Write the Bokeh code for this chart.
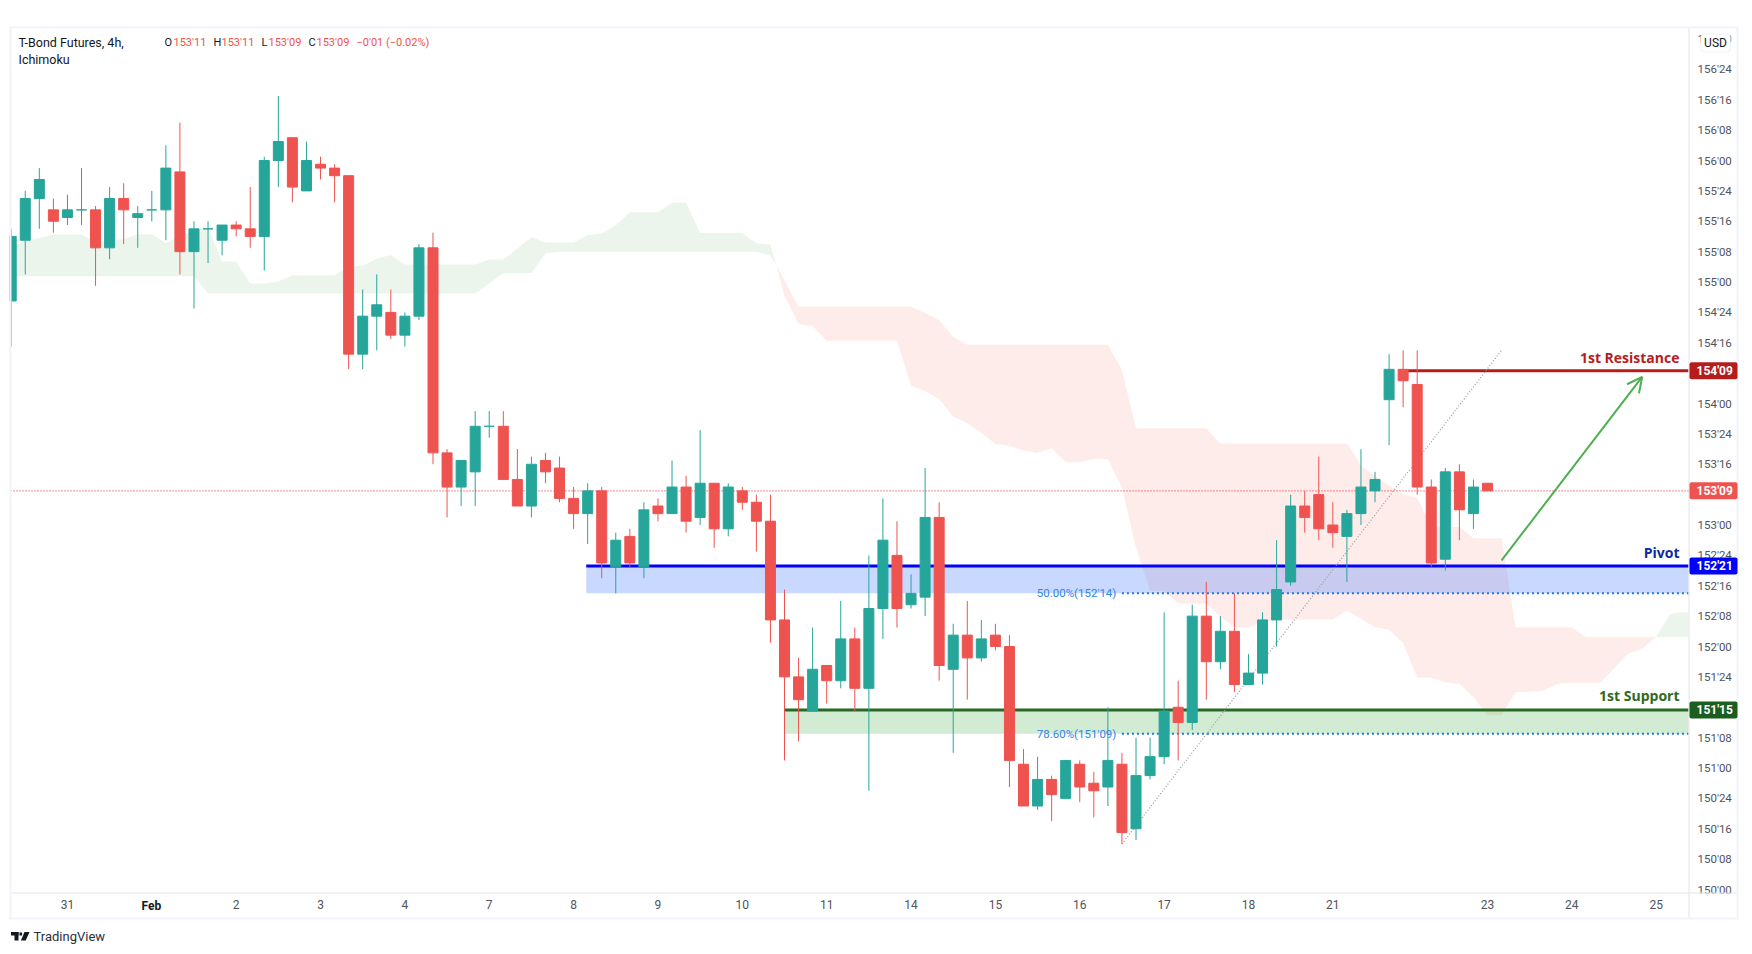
from bokeh.embed import file_html
from bokeh.resources import INLINE
from bokeh.plotting import figure
from bokeh.models import (Label, FixedTicker, Arrow, OpenHead, BoxAnnotation, PolyAnnotation, Range1d)

# T-Bond prices, in 32nds above 150'00
OPEN = [155,171,182,179,177,179,179,169,182,177,179,179,189,168,174,171,175,174,172,192,198,184,191,190,188,141,151,152,146,151,
        169,115,106,110,122,122,108,101,113,111,103,99,105,85,93,85,101,99,106,98,107,95,105,102,97,71,56,47,59,55,
        66,53,74,88,75,77,98,58,67,61,67,64,33,22,29,24,33,28,27,33,16,30,35,48,44,72,60,68,54,57,
        71,81,101,104,96,93,99,105,129,137,133,106,87,110,99,107]
HIGH = [174,184,190,182,183,190,180,185,186,180,184,196,202,176,176,175,176,185,193,209,198,197,193,191,188,158,162,158,152,170,
        173,116,113,126,126,126,116,114,115,114,106,107,106,94,95,102,103,113,109,121,107,107,106,104,104,79,61,69,59,76,
        69,88,103,97,83,111,102,70,76,71,70,67,37,35,30,34,34,31,48,36,40,40,73,55,75,81,72,78,62,73,
        92,104,105,114,102,100,116,110,141,142,142,108,111,112,108,107]
LOW = [143,162,174,173,175,175,159,166,170,169,176,171,162,153,165,167,172,169,163,185,181,184,187,181,137,137,142,145,143,150,
       112,98,101,101,119,108,101,98,107,102,95,91,82,78,85,82,97,99,94,96,90,93,100,89,65,34,39,47,49,53,
       47,26,66,69,74,72,55,36,50,60,63,27,22,21,18,24,23,19,22,12,13,29,33,34,42,50,58,52,54,54,
       64,80,94,92,90,81,96,102,117,127,104,85,84,92,95,105]
CLOSE = [172,182,187,176,179,179,169,182,179,178,179,190,168,174,174,175,174,172,192,197,185,192,190,188,141,151,154,146,151,169,
         115,106,113,122,122,108,101,112,110,103,99,105,86,92,86,100,99,106,97,107,95,106,102,97,71,56,50,58,55,66,
         53,74,92,74,78,98,59,67,61,66,64,34,22,29,25,34,27,26,34,15,30,35,47,44,72,60,68,54,57,71,
         79,101,98,95,94,99,106,108,137,134,106,86,110,100,106,105]

# Ichimoku cloud spans, in 32nds above 150'00, one value per bar
SPAN_A = [169.3,171,171.5,172.5,172.5,172.5,170.4,170.9,171.3,172.6,172.6,170.3,172.2,173.5,174.4,165.4,165.4,159.6,159.6,160.1,
          161.8,161.8,161.8,161.8,164,164.3,166.2,167.1,164.6,164.6,164.6,164.6,164.6,164.6,165.9,165.9,168.8,171.8,170.4,170.4,
          170.4,172.4,172.8,174.9,178.4,178.4,178.4,180.9,180.9,172.9,172.9,172.9,172.9,170.2,169.9,156.4,149,148.3,144.5,144.5,
          144.5,144.5,144.5,144.5,132.7,131.2,129.2,124.6,122.8,120.3,117.3,116.9,115.6,115,116.2,112.5,112.5,113.4,113.4,105.9,
          90.1,78.7,78.7,75.3,75.3,75.3,71.8,69.1,69.1,70.4,71.1,71.1,71.1,71.1,71.1,73.5,71.3,69.1,68.4,64.9,
          55.8,55.8,54.6,54.2,50.7,45.9,45.9,52,52,52.4,54.2,54.4,54.4,54.4,58.2,62.1,63.4,66.5,72.6,73]
SPAN_B = [161.5,161.5,161.5,161.5,161.5,161.5,161.5,161.5,161.5,161.5,161.5,161.5,161.5,161.5,157,157,157,157,157,157,
          157,157,157,157,157,157,157,157,157,157,157,157,157,157,159.6,162.4,162.4,162.4,167.5,168,
          168,168,168,168,168,168,168,168,168,168,168,168,168,168,167,160.4,153.5,153.5,153.5,153.5,
          153.5,153.5,153.5,153.5,153.5,151.9,149.9,145.5,143.5,143.5,143.5,143.5,143.5,143.5,143.5,143.5,143.5,143.5,143.5,136.9,
          121.5,121.5,121.5,121.5,121.5,121.5,117.5,117.5,117.5,117.5,117.5,117.5,117.5,117.5,117.5,117.5,111.7,109,106.4,104.2,
          103,95.8,95.5,95.5,92.5,92.5,92.5,69.1,69.1,69.1,69.1,69.1,66.5,66.5,66.5,66.5,66.5,66.5,66.5,66.5]

PRICE_TICKS = [0,8,16,24,32,40,48,56,64,72,80,88,96,104,112,120,128,136,144,152,160,168,176,184,192,200,208,216,224]
PRICE_LABELS = ["150'00","150'08","150'16","150'24","151'00","151'08","151'16","151'24","152'00","152'08","152'16","152'24",
                "153'00","153'08","153'16","153'24","154'00","154'08","154'16","154'24","155'00","155'08","155'16","155'24",
                "156'00","156'08","156'16","156'24","157'00"]
DATE_BARS = [4,10,16,22,28,34,40,46,52,58,64,70,76,82,88,94,105,111,117]
DATE_LABELS = ["31","Feb","2","3","4","7","8","9","10","11","14","15","16","17","18","21","23","24","25"]

LEVELS = {"res": 136.6, "pivot": 85.2, "sup": 47.3, "last": 105}
ZONE_PIVOT = [78, 85.2]
ZONE_SUP = [41, 47.3]
FIB_VALUES = [78, 41]
FIB_TEXT = ["50.00%(152'14)", "78.60%(151'09)"]
TREND_BAR = [79, 106]
TREND_VAL = [12, 142]
ARROW_BAR = [106, 116]
ARROW_VAL = [86.7, 135]


def price(t):
    return 150 + t / 32


# page pixels. The figure's frame covers the whole figure so that chart-side text can sit outside the pane.
W, H = 1750, 950
FL, FR, FT, FB = 10, 1688, 27, 892      # chart pane
X0, DX = 10.7, 14.06                    # first bar, bar step


def bar_at(px):
    return (px - X0) / DX


def price_at(py):
    return price(192 + (160 - py) / 3.797)


PANE_L, PANE_R = bar_at(FL), bar_at(FR)

p = figure(output_backend="svg", toolbar_location=None, width=W, height=H,
           x_range=Range1d(bar_at(0), bar_at(W)), y_range=Range1d(price_at(H), price_at(0)), y_axis_location="right",
           min_border_left=0, min_border_top=0, min_border_right=0, min_border_bottom=0,
           background_fill_color="white", border_fill_color="white")
p.grid.visible = False
p.outline_line_color = None

yax = p.yaxis[0]
yax.fixed_location = PANE_R
yax.ticker = FixedTicker(ticks=[price(t) for t in PRICE_TICKS])
yax.major_label_overrides = {price(t): s for t, s in zip(PRICE_TICKS, PRICE_LABELS)}
yax.major_tick_line_color = None
yax.minor_tick_line_color = None
yax.major_tick_in = 0
yax.major_tick_out = 0
yax.major_label_standoff = 9
yax.axis_line_color = None
yax.major_label_text_font = "Roboto"
yax.major_label_text_font_size = "11.5px"
yax.major_label_text_color = "#50535e"

xax = p.xaxis[0]
xax.fixed_location = price_at(FB)
xax.ticker = FixedTicker(ticks=DATE_BARS)
xax.major_label_overrides = {b: ("" if s == "Feb" else s) for b, s in zip(DATE_BARS, DATE_LABELS)}
xax.major_tick_line_color = None
xax.minor_tick_line_color = None
xax.major_tick_in = 0
xax.major_tick_out = 0
xax.major_label_standoff = 7
xax.axis_line_color = None
xax.major_label_text_font = "Roboto"
xax.major_label_text_font_size = "12px"
xax.major_label_text_color = "#50535e"


# cloud polygons: one per run where one span stays above the other
def cloud_runs():
    runs = {True: [], False: []}
    cur_up, cur_lo, cur_x, cur_sign = [], [], [], None
    for i, (a, b) in enumerate(zip(SPAN_A, SPAN_B)):
        sign = a >= b
        if cur_sign is None:
            cur_sign = sign
        if sign != cur_sign:
            pa, pb = SPAN_A[i - 1], SPAN_B[i - 1]
            t = (pb - pa) / ((a - pa) - (b - pb))
            xc, yc = i - 1 + t, pa + t * (a - pa)
            cur_x.append(xc); cur_up.append(yc); cur_lo.append(yc)
            runs[cur_sign].append((cur_x, cur_up, cur_lo))
            cur_x, cur_up, cur_lo, cur_sign = [xc], [yc], [yc], sign
        cur_x.append(i); cur_up.append(max(a, b)); cur_lo.append(min(a, b))
    cur_x.append(PANE_R); cur_up.append(cur_up[-1]); cur_lo.append(cur_lo[-1])
    runs[cur_sign].append((cur_x, cur_up, cur_lo))
    return runs


runs = cloud_runs()
for sign, color in ((True, "#43a047"), (False, "#f44336")):
    xs, ys = [], []
    for rx, ru, rl in runs[sign]:
        xs.append(list(rx) + list(rx)[::-1])
        ys.append([price(v) for v in ru] + [price(v) for v in rl][::-1])
    p.patches(xs, ys, fill_color=color, fill_alpha=0.1, line_color=None)

# zones and levels
p.quad(left=[40.9], right=[PANE_R], bottom=[price(ZONE_PIVOT[0])], top=[price(ZONE_PIVOT[1])],
       fill_color="#2962ff", fill_alpha=0.25, line_color=None)
p.quad(left=[55], right=[PANE_R], bottom=[price(ZONE_SUP[0])], top=[price(ZONE_SUP[1])],
       fill_color="#4caf50", fill_alpha=0.25, line_color=None)
p.line([PANE_L, PANE_R], [price(LEVELS["last"])] * 2, line_color="#f0444a", line_width=1.2, line_dash=[1, 2])
p.line([40.9, PANE_R], [price(LEVELS["pivot"])] * 2, line_color="#0000ff", line_width=3)
p.line([55, PANE_R], [price(LEVELS["sup"])] * 2, line_color="#266b24", line_width=3)
p.line([98.8, PANE_R], [price(LEVELS["res"])] * 2, line_color="#b71c1c", line_width=3)
for v in FIB_VALUES:
    p.line([79, PANE_R], [price(v)] * 2, line_color="#1e78e6", line_width=2, line_dash=[2, 3])
p.line(TREND_BAR, [price(v) for v in TREND_VAL], line_color="#9a9a9a", line_width=1.2, line_dash=[1, 2])

# candles
GREEN, RED = "#26a69a", "#ef5350"
bars = list(range(len(OPEN)))
colors = [GREEN if c >= o else RED for o, c in zip(OPEN, CLOSE)]
p.segment(bars, [price(v) for v in HIGH], bars, [price(v) for v in LOW], line_color=colors, line_width=1)
p.vbar(x=bars, width=10 / DX, top=[price(max(o, c)) for o, c in zip(OPEN, CLOSE)],
       bottom=[price(min(o, c)) for o, c in zip(OPEN, CLOSE)], fill_color=colors, line_color=colors, line_width=1)

p.add_layout(Arrow(end=OpenHead(size=15, line_color="#4caf50", line_width=2), x_start=ARROW_BAR[0], y_start=price(ARROW_VAL[0]),
                   x_end=ARROW_BAR[1], y_end=price(ARROW_VAL[1]), line_color="#4caf50", line_width=2))


def sy(y):
    return H - y


def box(x0, y0, x1, y1, color, **kw):
    p.add_layout(BoxAnnotation(left=x0, right=x1, top=sy(y0), bottom=sy(y1), left_units="screen", right_units="screen",
                               top_units="screen", bottom_units="screen", fill_color=color, fill_alpha=1,
                               line_color=kw.pop("line_color", None), **kw))


def text(x, y, s, color="#131722", size="12px", font="Roboto", align="left", style="normal"):
    p.add_layout(Label(x=x, y=sy(y), x_units="screen", y_units="screen", text=s, text_color=color, text_font=font,
                       text_font_size=size, text_align=align, text_baseline="middle", text_font_style=style))


# pane chrome
box(0, FT - 1, FL - 1, FB + 1, "white")                # keeps the first bar inside the pane
box(1689, FB + 1, 1736, 917, "white")                  # bottom price label is cut by the time scale
box(9, 26, 1738, 28, "#f0f3fa")
box(9, 26, 11, 919, "#f0f3fa")
box(9, 917, 1738, 919, "#f0f3fa")
box(1736, 26, 1738, 919, "#f0f3fa")
box(1688, 28, 1689, 917, "#e0e3eb")
box(11, 892, 1736, 893, "#e0e3eb")

text(18, 41.5, "T-Bond Futures, 4h,", size="12.5px")
text(18, 58.5, "Ichimoku", size="12.5px")
HEADER_RED = "#ef5350"
for (kx, k), (vx, v) in zip(((164, "O"), (213, "H"), (261, "L"), (308, "C")),
                            ((173, "153'11"), (221, "153'11"), (268, "153'09"), (316, "153'09"))):
    text(kx, 41.5, k, size="11px")
    text(vx, 41.5, v, HEADER_RED, size="11px")
text(356, 41.5, "\u22120'01 (\u22120.02%)", HEADER_RED, size="11px")

text(150.8, 905, "Feb", "#131722", align="center", style="bold")
text(33, 936, "TradingView", "#2a2e39", "13px")

for s, lvl_y, color in (("1st Resistance", 356.5, "#b71c1c"), ("Pivot", 552, "#0d2ba0"), ("1st Support", 695, "#33691e")):
    text(1679, lvl_y, s, color, "14px", "Open Sans", "right", "bold")

for v, s in zip(FIB_VALUES, FIB_TEXT):
    p.add_layout(Label(x=78.6, y=price(v), text=s, text_color="#2f86e8", text_font="Roboto", text_font_size="11.5px",
                       text_align="right", text_baseline="middle"))

for lvl, s, bg in ((LEVELS["res"], "154'09", "#b71c1c"), (LEVELS["last"], "153'09", "#ef5350"),
                   (LEVELS["pivot"], "152'21", "#0000ff"), (LEVELS["sup"], "151'15", "#1b5e20")):
    p.add_layout(BoxAnnotation(left=1689, right=1737, top=price(lvl) + 8.5 / 121.5, bottom=price(lvl) - 8.5 / 121.5,
                               left_units="screen", right_units="screen", fill_color=bg, fill_alpha=1, line_color=None,
                               border_radius=2))
    p.add_layout(Label(x=1696, y=price(lvl), x_units="screen", text=s, text_color="white", text_font="Roboto",
                       text_font_size="12px", text_font_style="bold", text_baseline="middle", text_align="left"))

# USD badge
box(1700, 33.5, 1730, 51.5, "white", line_color="#d1d4dc", line_width=1, border_radius=4)
text(1715, 42.5, "USD", "#131722", "12px", align="center")

# TradingView logo
LOGO = "#131722"
box(10.5, 931.5, 18, 935, LOGO)
box(14, 931.5, 18, 940, LOGO)
for xs_, ys_ in (([24, 29, 25.2, 20.4], [931.5, 931.5, 940, 940]),
                 ([19, 21.6, 21.6, 19], [932, 932, 935, 935])):
    p.add_layout(PolyAnnotation(xs=list(xs_), ys=[sy(v) for v in ys_], xs_units="screen", ys_units="screen",
                                fill_color=LOGO, fill_alpha=1, line_color=None))

open("out.html", "w").write(file_html(p, INLINE))
